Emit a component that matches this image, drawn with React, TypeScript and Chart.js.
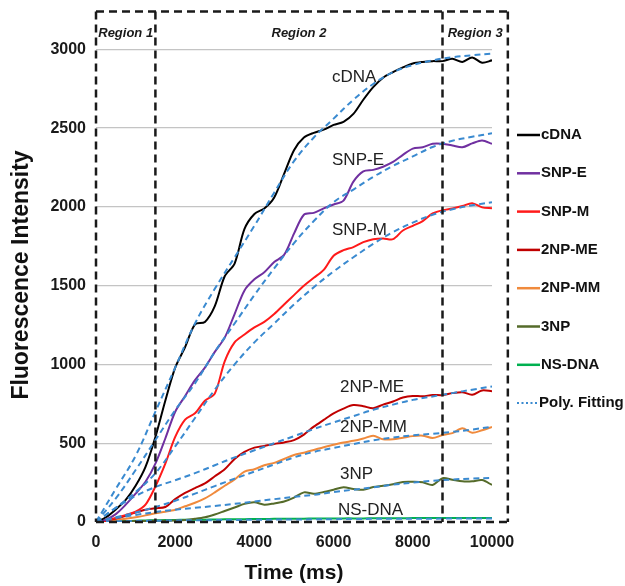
import React, { useEffect, useRef } from "react";
import { Chart, registerables } from "chart.js";

Chart.register(...registerables);

// ---- data ----
const TIMES = [0, 250, 500, 750, 1000, 1250, 1500, 1750, 2000, 2250, 2500, 2750, 3000, 3250, 3500, 3750, 4000, 4250, 4500, 4750, 5000, 5250, 5500, 5750, 6000, 6250, 6500, 6750, 7000, 7250, 7500, 7750, 8000, 8250, 8500, 8750, 9000, 9250, 9500, 9750, 10000];
const FIT_TIMES = [0, 500, 1000, 1500, 2000, 2500, 3000, 3500, 4000, 4500, 5000, 5500, 6000, 6500, 7000, 7500, 8000, 8500, 9000, 9500, 10000];

const SERIES_NAMES = ["cDNA", "SNP-E", "SNP-M", "2NP-ME", "2NP-MM", "3NP", "NS-DNA"];
const SERIES_COLORS = ["#000000", "#7030a0", "#ff1a1a", "#c00000", "#f08a3c", "#556b2a", "#00b050"];
const FIT_NAME = "Poly. Fitting";
const FIT_COLOR = "#3a8ad0";

const CDNA = [0, 30, 80, 140, 230, 350, 540, 770, 980, 1110, 1255, 1270, 1370, 1560, 1640, 1860, 1955, 1990, 2060, 2210, 2360, 2440, 2470, 2490, 2520, 2540, 2590, 2680, 2760, 2820, 2855, 2885, 2910, 2920, 2925, 2925, 2940, 2920, 2948, 2915, 2930];
const SNP_E = [0, 15, 50, 110, 180, 255, 370, 530, 700, 800, 900, 980, 1080, 1170, 1320, 1470, 1540, 1585, 1650, 1695, 1830, 1950, 1962, 1990, 2015, 2040, 2160, 2225, 2235, 2255, 2285, 2330, 2370, 2378, 2400, 2400, 2390, 2378, 2403, 2422, 2400];
const SNP_M = [0, 10, 25, 45, 65, 110, 225, 370, 540, 650, 690, 770, 815, 1020, 1140, 1190, 1235, 1270, 1320, 1380, 1440, 1500, 1550, 1600, 1690, 1725, 1745, 1776, 1795, 1800, 1795, 1850, 1880, 1910, 1958, 1978, 1990, 2005, 2023, 1997, 1991];
const NP2_ME = [0, 8, 22, 40, 60, 78, 88, 95, 145, 185, 215, 245, 290, 335, 400, 445, 472, 483, 495, 505, 520, 555, 605, 648, 690, 720, 742, 735, 722, 745, 765, 790, 800, 798, 806, 805, 818, 824, 808, 835, 830];
const NP2_MM = [0, 5, 12, 20, 30, 42, 55, 65, 78, 100, 122, 150, 188, 230, 270, 320, 335, 360, 375, 400, 425, 440, 457, 475, 490, 505, 515, 530, 548, 525, 525, 535, 545, 548, 533, 552, 564, 595, 566, 582, 603];
const NP3 = [0, 2, 4, 5, 6, 7, 8, 8, 10, 13, 20, 30, 48, 70, 92, 115, 125, 110, 118, 130, 155, 188, 180, 190, 205, 220, 210, 205, 222, 230, 240, 254, 255, 252, 235, 278, 268, 258, 258, 266, 235];
const NS_DNA = [0, 2, 4, 6, 8, 10, 11, 12, 13, 14, 15, 15, 16, 17, 17, 18, 19, 19, 20, 20, 21, 21, 22, 22, 22, 23, 23, 23, 24, 24, 24, 24, 25, 25, 25, 25, 25, 25, 26, 25, 25];

const CDNA_FIT = [0, 210, 420, 700, 980, 1260, 1480, 1680, 1880, 2090, 2290, 2440, 2560, 2680, 2780, 2855, 2900, 2930, 2950, 2962, 2972];
const SNP_E_FIT = [0, 150, 330, 520, 710, 880, 1080, 1260, 1440, 1610, 1770, 1910, 2030, 2110, 2190, 2260, 2320, 2380, 2420, 2445, 2467];
const SNP_M_FIT = [0, 90, 190, 310, 480, 660, 840, 1000, 1140, 1260, 1380, 1490, 1590, 1680, 1765, 1840, 1900, 1950, 1985, 2010, 2030];
const NP2_ME_FIT = [0, 90, 165, 222, 265, 310, 360, 410, 455, 500, 545, 590, 632, 672, 712, 745, 775, 797, 818, 840, 860];
const NP2_MM_FIT = [0, 30, 60, 95, 135, 180, 228, 275, 320, 365, 410, 445, 470, 495, 518, 536, 550, 560, 572, 587, 605];
const NP3_FIT = [0, 25, 45, 63, 78, 90, 102, 115, 130, 145, 160, 172, 190, 205, 220, 237, 250, 262, 270, 276, 280];
const NS_DNA_FIT = [2, 4, 6, 8, 10, 11, 12, 13, 14, 15, 16, 17, 18, 19, 20, 20, 21, 21, 22, 22, 22];

const SERIES_VALUES = [CDNA, SNP_E, SNP_M, NP2_ME, NP2_MM, NP3, NS_DNA];
const FIT_VALUES = [CDNA_FIT, SNP_E_FIT, SNP_M_FIT, NP2_ME_FIT, NP2_MM_FIT, NP3_FIT, NS_DNA_FIT];

const X_TICKS = [0, 2000, 4000, 6000, 8000, 10000];
const Y_TICKS = [0, 500, 1000, 1500, 2000, 2500, 3000];
const Y_MAX = 3240;

const X_TITLE = "Time (ms)";
const Y_TITLE = "Fluorescence Intensity";

const REGION_BOUNDS = [0, 1500, 8750, 10400];
const REGION_LABELS = ["Region 1", "Region 2", "Region 3"];
const REGION_LABEL_Y = 3104;

// in-plot curve labels (anchor in data units, left aligned)
const CURVE_LABEL_X = [5960, 5960, 5960, 6160, 6160, 6160, 6110];
const CURVE_LABEL_Y = [2824, 2298, 1853, 857, 603, 305, 76];

const FONT = "'Liberation Sans', Arial, sans-serif";

const overlayPlugin = {
  id: "overlay",
  afterDatasetsDraw(chart: any) {
    const { ctx, scales, chartArea } = chart;
    const x = scales.x;
    const y = scales.y;
    ctx.save();

    // dashed region boxes
    const top = y.getPixelForValue(Y_MAX);
    const bottom = y.getPixelForValue(0);
    const xs = REGION_BOUNDS.map((v) => x.getPixelForValue(v));
    ctx.strokeStyle = "#1a1a1a";
    ctx.lineWidth = 2.5;
    ctx.setLineDash([8, 5]);
    const seg = (x1: number, y1: number, x2: number, y2: number) => {
      ctx.beginPath();
      ctx.moveTo(x1, y1);
      ctx.lineTo(x2, y2);
      ctx.stroke();
    };
    seg(xs[0], top, xs[xs.length - 1], top);
    seg(xs[0], bottom, xs[xs.length - 1], bottom);
    xs.forEach((px) => seg(px, top, px, bottom));
    ctx.setLineDash([]);

    // region labels
    ctx.fillStyle = "#1a1a1a";
    ctx.font = `italic bold 13px ${FONT}`;
    ctx.textAlign = "center";
    ctx.textBaseline = "middle";
    REGION_LABELS.forEach((t, i) => {
      const cx = (xs[i] + xs[i + 1]) / 2;
      ctx.fillText(t, cx, y.getPixelForValue(REGION_LABEL_Y));
    });

    // curve labels
    ctx.font = `17px ${FONT}`;
    ctx.textAlign = "left";
    ctx.fillStyle = "#222";
    SERIES_NAMES.forEach((t, i) => {
      ctx.fillText(t, x.getPixelForValue(CURVE_LABEL_X[i]), y.getPixelForValue(CURVE_LABEL_Y[i]));
    });

    // y axis title
    ctx.save();
    ctx.translate(22, 275);
    ctx.rotate(-Math.PI / 2);
    ctx.font = `bold 23px ${FONT}`;
    ctx.fillStyle = "#111";
    ctx.textAlign = "center";
    ctx.textBaseline = "middle";
    ctx.fillText(Y_TITLE, 0, 0);
    ctx.restore();

    // legend
    const lx = chartArea.right + 25;
    const ly0 = 135;
    const step = 38.3;
    ctx.font = `bold 15px ${FONT}`;
    ctx.textAlign = "left";
    ctx.textBaseline = "middle";
    SERIES_NAMES.forEach((t, i) => {
      const ly = ly0 + i * step;
      ctx.strokeStyle = SERIES_COLORS[i];
      ctx.lineWidth = 2.5;
      seg(lx, ly, lx + 23, ly);
      ctx.fillStyle = "#111";
      ctx.fillText(t, lx + 24, ly);
    });
    const fy = ly0 + SERIES_NAMES.length * step;
    ctx.strokeStyle = FIT_COLOR;
    ctx.lineWidth = 2;
    ctx.setLineDash([2, 2.5]);
    seg(lx, fy, lx + 21, fy);
    ctx.setLineDash([]);
    ctx.fillStyle = "#111";
    ctx.fillText(FIT_NAME, lx + 22, fy);

    ctx.restore();
  },
};

export default function App() {
  const ref = useRef<HTMLCanvasElement | null>(null);

  useEffect(() => {
    if (!ref.current) return;
    const datasets: any[] = [];
    FIT_VALUES.forEach((vals, i) => {
      datasets.push({
        label: SERIES_NAMES[i] + " fit",
        data: FIT_TIMES.map((t, j) => ({ x: t, y: vals[j] })),
        borderColor: FIT_COLOR,
        borderWidth: 2,
        borderDash: [6, 4],
        pointRadius: 0,
        tension: 0.4,
        fill: false,
        order: 0,
      });
    });
    SERIES_VALUES.forEach((vals, i) => {
      datasets.push({
        label: SERIES_NAMES[i],
        data: TIMES.map((t, j) => ({ x: t, y: vals[j] })),
        borderColor: SERIES_COLORS[i],
        borderWidth: 2,
        pointRadius: 0,
        tension: 0.3,
        fill: false,
        order: 1,
      });
    });

    const chart = new Chart(ref.current, {
      type: "line",
      data: { datasets },
      options: {
        animation: false,
        responsive: false,
        devicePixelRatio: 1,
        layout: { padding: { top: 11.5, right: 133, left: 0, bottom: 0 } },
        plugins: { legend: { display: false }, tooltip: { enabled: false } },
        scales: {
          x: {
            type: "linear",
            min: 0,
            max: 10000,
            border: { display: false },
            grid: { display: false, drawTicks: false },
            afterBuildTicks: (s: any) => {
              s.ticks = X_TICKS.map((v) => ({ value: v }));
            },
            afterFit: (s: any) => {
              s.height = 64;
              s.paddingLeft = 0;
              s.paddingRight = 0;
              s.paddingTop = 0;
              s.paddingBottom = 0;
            },
            ticks: {
              padding: 11,
              color: "#1a1a1a",
              font: { family: FONT, size: 16, weight: "bold" },
              maxRotation: 0,
              callback: (v: any) => String(v),
            },
            title: {
              display: true,
              text: X_TITLE,
              color: "#111",
              padding: { top: 0, bottom: 0 },
              font: { family: FONT, size: 21, weight: "bold" },
            },
          },
          y: {
            type: "linear",
            min: 0,
            max: Y_MAX,
            border: { display: false },
            grid: {
              drawTicks: false,
              color: (c: any) => (c.tick && c.tick.value === 0 ? "rgba(0,0,0,0)" : "#c4c4c4"),
              lineWidth: 1.3,
            },
            afterBuildTicks: (s: any) => {
              s.ticks = Y_TICKS.map((v) => ({ value: v }));
            },
            afterFit: (s: any) => {
              s.width = 96;
              s.paddingLeft = 0;
              s.paddingRight = 0;
              s.paddingTop = 0;
              s.paddingBottom = 0;
            },
            ticks: {
              padding: 10,
              color: "#1a1a1a",
              font: { family: FONT, size: 16, weight: "bold" },
              callback: (v: any) => String(v),
            },
            title: { display: false },
          },
        },
      },
      plugins: [overlayPlugin],
    });
    return () => chart.destroy();
  }, []);

  return (
    <div style={{ position: "absolute", left: 0, top: 0, width: 625, height: 586, background: "#fff" }}>
      <canvas ref={ref} width={625} height={586} style={{ width: 625, height: 586 }} />
    </div>
  );
}
